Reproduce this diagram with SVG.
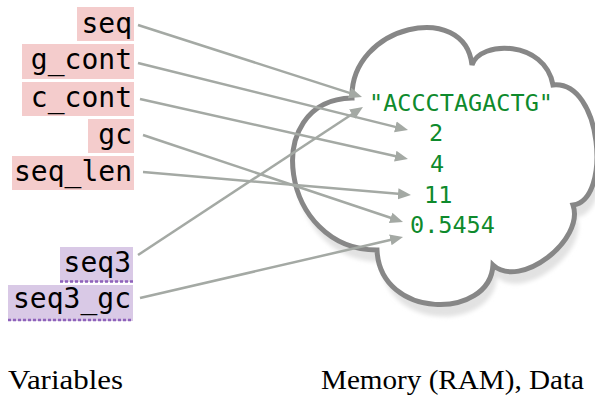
<svg xmlns="http://www.w3.org/2000/svg" width="595" height="396" viewBox="0 0 595 396">
<style>
.var{font-family:"DejaVu Sans Mono",monospace;font-size:28px;fill:#000;text-anchor:end}
.val{font-family:"DejaVu Sans Mono",monospace;font-size:23.5px;fill:#0e8a2c}
.pink{fill:#f4cccc}
.purp{fill:#d9c9e6}
.dot{stroke:#8e62bb;stroke-width:2.5;stroke-dasharray:3 2;fill:none}
.cap{font-family:"Liberation Serif",serif;font-size:28px;fill:#000}
.arr{stroke:#a4a9a4;stroke-width:2.5;fill:none;marker-end:url(#ah)}
</style>
<defs>
<marker id="ah" markerUnits="userSpaceOnUse" markerWidth="14" markerHeight="12" refX="3" refY="6" orient="auto">
<path d="M0,0.5 L13,6 L0,11.5 z" fill="#a4a9a4"/>
</marker>
<filter id="blur" x="-10%" y="-10%" width="120%" height="120%"><feGaussianBlur stdDeviation="2"/></filter>
</defs>
<rect width="595" height="396" fill="#fff"/>
<g id="cloud">
<path transform="translate(4,12)" filter="url(#blur)" fill="#e2e2e2" d="M352 98 C350 25,465 0,472 65 C480 40,545 40,553 85 C602 80,612 200,573 205 C585 240,520 290,493 265 C490 320,380 320,377 250 C280 250,260 100,352 98 Z"/>
<path fill="#fff" stroke="#878787" stroke-width="5" stroke-linejoin="miter" d="M352 98 C350 25,465 0,472 65 C480 40,545 40,553 85 C602 80,612 200,573 205 C585 240,520 290,493 265 C490 320,380 320,377 250 C280 250,260 100,352 98 Z"/>
</g>
<g id="values">
<text class="val" x="369" y="111">"ACCCTAGACTG"</text>
<text class="val" x="429" y="141">2</text>
<text class="val" x="430" y="172">4</text>
<text class="val" x="424" y="203">11</text>
<text class="val" x="410" y="233">0.5454</text>
</g>
<g id="v_seq"><rect class="pink" x="77" y="7" width="57" height="34"/><text class="var" x="132" y="33">seq</text></g>
<g id="v_g_cont"><rect class="pink" x="22" y="44" width="112" height="35"/><text class="var" x="132" y="69">g_cont</text></g>
<g id="v_c_cont"><rect class="pink" x="22" y="82" width="112" height="34"/><text class="var" x="132" y="107">c_cont</text></g>
<g id="v_gc"><rect class="pink" x="88" y="119" width="46" height="34"/><text class="var" x="132" y="144">gc</text></g>
<g id="v_seq_len"><rect class="pink" x="12" y="156" width="122" height="34"/><text class="var" x="132" y="181">seq_len</text></g>
<g id="v_seq3"><rect class="purp" x="60" y="247" width="73" height="35"/><line class="dot" x1="60" y1="281.5" x2="133" y2="281.5"/><text class="var" x="131" y="272">seq3</text></g>
<g id="v_seq3_gc"><rect class="purp" x="8" y="285" width="125" height="36"/><line class="dot" x1="8" y1="320" x2="133" y2="320"/><text class="var" x="131" y="308">seq3_gc</text></g>
<g id="connectors">
<line class="arr" x1="138" y1="25" x2="352.5" y2="93.9"/>
<line class="arr" x1="138" y1="63" x2="398.3" y2="127.6"/>
<line class="arr" x1="140" y1="99" x2="398.2" y2="156.8"/>
<line class="arr" x1="143" y1="135" x2="393.5" y2="218.8"/>
<line class="arr" x1="143" y1="172" x2="401" y2="194.1"/>
<line class="arr" x1="138" y1="255" x2="354.6" y2="112.5"/>
<line class="arr" x1="140" y1="298" x2="393.3" y2="239.3"/>
</g>
<g id="captions">
<text class="cap" x="8" y="389" textLength="115" lengthAdjust="spacingAndGlyphs">Variables</text>
<text class="cap" x="321" y="389" textLength="263" lengthAdjust="spacingAndGlyphs">Memory (RAM), Data</text>
</g>
</svg>
